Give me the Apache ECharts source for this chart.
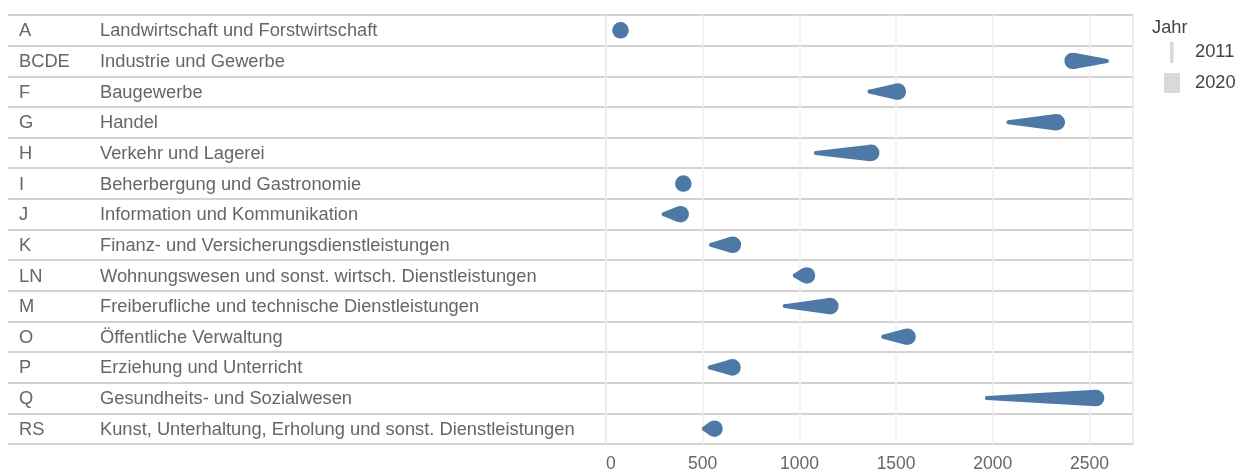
<!DOCTYPE html>
<html>
<head>
<meta charset="utf-8">
<script src="https://cdn.jsdelivr.net/npm/echarts@6/dist/echarts.min.js"></script>
<style>
    html, body { margin: 0; padding: 0; background: #fff; }
    #chart { width: 1251px; height: 474px; }
</style>
</head>
<body>
<div id="chart"></div>
<script>
// Wirtschaftsbereiche (Code + Bezeichnung)
const codes = ['A', 'BCDE', 'F', 'G', 'H', 'I', 'J', 'K', 'LN', 'M', 'O', 'P', 'Q', 'RS']
const branchen = [
    'Landwirtschaft und Forstwirtschaft',
    'Industrie und Gewerbe',
    'Baugewerbe',
    'Handel',
    'Verkehr und Lagerei',
    'Beherbergung und Gastronomie',
    'Information und Kommunikation',
    'Finanz- und Versicherungsdienstleistungen',
    'Wohnungswesen und sonst. wirtsch. Dienstleistungen',
    'Freiberufliche und technische Dienstleistungen',
    'Öffentliche Verwaltung',
    'Erziehung und Unterricht',
    'Gesundheits- und Sozialwesen',
    'Kunst, Unterhaltung, Erholung und sonst. Dienstleistungen',
]
// Werte je Jahr
const jahr2011 = [70, 2590, 1362, 2081, 1085, 395, 298, 543, 976, 924, 1433, 536, 1969, 506]
const jahr2020 = [75, 2413, 1509, 2331, 1371, 400, 386, 656, 1039, 1160, 1559, 654, 2534, 561]
const jahre = ['2011', '2020']

const FONT = '"Liberation Sans", Arial, sans-serif'
const TXT = '#666666'
const SIZE = 18.3
const BLUE = '#4e79a7'

const renderTadpole = (params, api) => {
    const p1 = api.coord([api.value(0), api.value(2)])
    const p2 = api.coord([api.value(1), api.value(2)])
    const r1 = 2, r2 = 8.3
    const children = [
        { type: 'circle', shape: { cx: p2[0], cy: p2[1], r: r2 }, style: { fill: BLUE } },
        { type: 'circle', shape: { cx: p1[0], cy: p1[1], r: r1 }, style: { fill: BLUE } },
    ]
    const dx = p2[0] - p1[0], dy = p2[1] - p1[1]
    const d = Math.hypot(dx, dy)
    if (d > r2 - r1) {
        const a = Math.atan2(dy, dx)
        const phi = Math.acos((r1 - r2) / d)
        const pt = (p, r, ang) => [p[0] + r * Math.cos(ang), p[1] + r * Math.sin(ang)]
        children.push({
            type: 'polygon',
            shape: { points: [pt(p1, r1, a + phi), pt(p2, r2, a + phi), pt(p2, r2, a - phi), pt(p1, r1, a - phi)] },
            style: { fill: BLUE },
        })
    }
    return { type: 'group', children }
}

const chart = echarts.init(document.getElementById('chart'))
chart.setOption({
    animation: false,
    textStyle: { fontFamily: FONT },
    grid: [
        { left: 8, right: 118, top: 15, bottom: 30 },
        { left: 606, right: 118, top: 15, bottom: 30, show: true, borderColor: '#cccccc', borderWidth: 1 },
    ],
    xAxis: [
        { gridIndex: 0, type: 'value', show: false },
        {
            gridIndex: 1,
            type: 'value',
            min: 0,
            max: 2725,
            interval: 500,
            axisLine: { show: false },
            axisTick: { show: false },
            splitLine: { lineStyle: { color: '#efefef', width: 1.5 } },
            axisLabel: {
                showMaxLabel: false,
                margin: 11,
                color: TXT,
                fontSize: 17.5,
                fontFamily: FONT,
                formatter: v => (v === 0 ? '  0' : String(v)),
            },
        },
    ],
    yAxis: [
        {
            gridIndex: 0,
            type: 'category',
            inverse: true,
            data: codes,
            axisLine: { show: false },
            axisTick: { show: false },
            splitLine: { show: true, lineStyle: { color: '#d3d3d3', width: 2 } },
            axisLabel: {
                inside: true,
                margin: 11,
                formatter: (value, idx) => `{c|${value}}{n|${branchen[idx]}}`,
                rich: {
                    c: { width: 81, color: TXT, fontSize: SIZE, fontFamily: FONT, padding: [2, 0, 0, 0] },
                    n: { color: TXT, fontSize: SIZE, fontFamily: FONT, padding: [2, 0, 0, 0] },
                },
            },
        },
        {
            gridIndex: 1,
            type: 'category',
            inverse: true,
            data: codes,
            show: false,
        },
    ],
    series: [
        {
            type: 'custom',
            xAxisIndex: 1,
            yAxisIndex: 1,
            renderItem: renderTadpole,
            encode: { x: [0, 1], y: 2 },
            data: codes.map((c, i) => [jahr2011[i], jahr2020[i], i]),
        },
    ],
    graphic: [
        { type: 'text', left: 1152, top: 19, style: { text: 'Jahr', fill: '#444', font: `${SIZE}px ${FONT}` } },
        { type: 'rect', shape: { x: 1170, y: 42, width: 3.5, height: 21 }, style: { fill: '#d9d9d9' } },
        { type: 'text', left: 1195, top: 43, style: { text: jahre[0], fill: '#444', font: `${SIZE}px ${FONT}` } },
        { type: 'rect', shape: { x: 1164, y: 73, width: 16, height: 20 }, style: { fill: '#d9d9d9' } },
        { type: 'text', left: 1195, top: 74, style: { text: jahre[1], fill: '#444', font: `${SIZE}px ${FONT}` } },
    ],
})
</script>
</body>
</html>
